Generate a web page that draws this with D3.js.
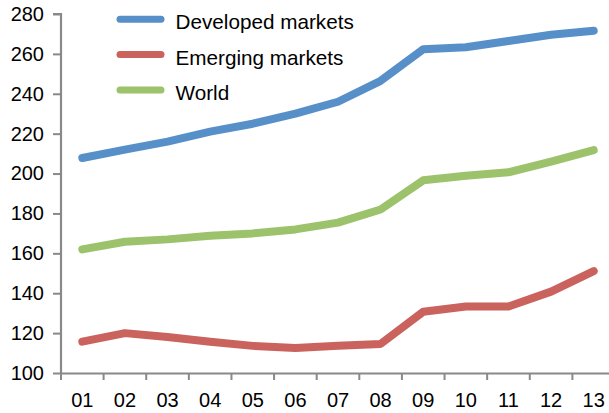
<!DOCTYPE html>
<html><head><meta charset="utf-8">
<script src="https://cdn.jsdelivr.net/npm/d3@7"></script>
<style>body{margin:0;background:#fff}svg{display:block}text{font-family:"Liberation Sans",Arial,sans-serif;fill:#000}</style>
</head><body><svg id="c" width="609" height="413"></svg>
<script>
const categories = ["01","02","03","04","05","06","07","08","09","10","11","12","13"];
const developed = [207.8,212,216,221,225,230,236,246.5,262.3,263.3,266.5,269.6,271.6];
const emerging = [115.7,120,118,115.7,113.6,112.5,113.7,114.6,130.7,133.3,133.3,140.8,151.1];
const world = [162,165.8,167,168.8,170,172,175.4,182,196.6,198.9,200.6,206,211.8];
const seriesNames = ["Developed markets","Emerging markets","World"];
const yTicks = [100,120,140,160,180,200,220,240,260,280];
const colors = ["#5790C8","#CA625D","#9CC26B"];

const svg = d3.select("#c");
const mLeft = 61, mRight = 615, mTop = 14, mBottom = 373;
const x = d3.scaleBand().domain(categories).range([mLeft, mRight]);
const y = d3.scaleLinear().domain([100,280]).range([mBottom, mTop]);
const axisColor = "#898989";

const ya = svg.append("g").attr("transform",`translate(${mLeft},0)`)
  .call(d3.axisLeft(y).tickValues(yTicks).tickSize(8).tickPadding(9));
const xa = svg.append("g").attr("transform",`translate(0,${mBottom})`)
  .call(d3.axisBottom(x).tickSize(0).tickPadding(20));
xa.selectAll(".tick line").remove();
const bounds = categories.map((c)=>x(c)).concat([x(categories[categories.length-1])+x.bandwidth()]);
xa.selectAll(".bt").data(bounds).enter().append("line")
  .attr("x1",d=>d).attr("x2",d=>d).attr("y1",0).attr("y2",7)
  .attr("stroke",axisColor).attr("stroke-width",2);
[ya,xa].forEach(g=>{
  g.select(".domain").attr("stroke",axisColor).attr("stroke-width",2.2);
  g.selectAll(".tick line").attr("stroke",axisColor).attr("stroke-width",2);
  g.selectAll("text").attr("font-size","20px").attr("font-family","Liberation Sans, Arial, sans-serif").attr("fill","#000");
});
ya.select(".domain").attr("d",`M-8,${mTop}H0V${mBottom}`);

const data = [developed, emerging, world];
const line = d3.line().x((d,i)=>x(categories[i])+x.bandwidth()/2).y(d=>y(d));
data.forEach((s,k)=>{
  svg.append("path").datum(s).attr("d",line).attr("fill","none")
    .attr("stroke",colors[k]).attr("stroke-width",8)
    .attr("stroke-linecap","round").attr("stroke-linejoin","round");
});

const lg = svg.append("g");
seriesNames.forEach((n,k)=>{
  const ly = 19.3 + k*35.3;
  lg.append("line").attr("x1",120).attr("x2",161).attr("y1",ly).attr("y2",ly)
    .attr("stroke",colors[k]).attr("stroke-width",7).attr("stroke-linecap","round");
  lg.append("text").attr("x",175.5).attr("y",ly+2.5).attr("dy","0.36em")
    .attr("font-size","20.7px").text(n);
});
</script></body></html>
